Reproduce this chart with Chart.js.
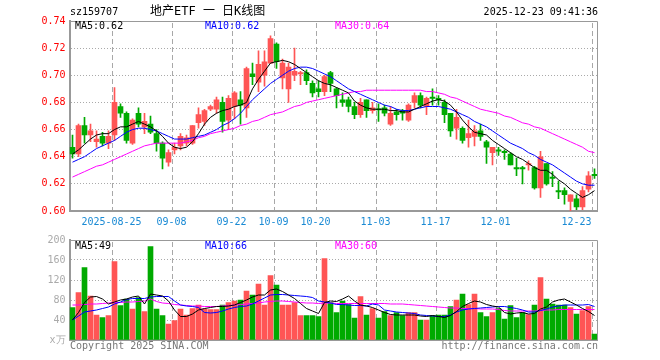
<!DOCTYPE html>
<html>
<head>
<meta charset="utf-8">
<script src="https://cdn.jsdelivr.net/npm/chart.js@4.4.1/dist/chart.umd.min.js"></script>
<style>
  html, body { margin: 0; padding: 0; background: #fff; }
  #wrap { position: relative; width: 660px; height: 360px; overflow: hidden; font-family: "DejaVu Sans Mono", monospace; font-size: 10px; }
  canvas { position: absolute; left: 0; }
  .t { position: absolute; white-space: pre; line-height: 12px; }
</style>
</head>
<body>
<div id="wrap">
  <canvas id="k" width="660" height="230" style="top:0"></canvas>
  <canvas id="v" width="660" height="125" style="top:230px"></canvas>
  <div class="t" style="left:70px;top:6px">sz159707</div>
  <div class="t" style="left:150px;top:4px;font-size:12px;line-height:15px;font-family:'DejaVu Sans Mono','Noto Sans CJK SC',monospace">地产ETF 一 日K线图</div>
  <div class="t" style="right:62px;top:6px">2025-12-23 09:41:36</div>
  <div class="t" style="left:75px;top:20px;color:#000">MA5:0.62</div>
  <div class="t" style="left:205px;top:20px;color:#00f">MA10:0.62</div>
  <div class="t" style="left:335px;top:20px;color:#f0f">MA30:0.64</div>
  <div class="t" style="left:75px;top:240px;color:#000">MA5:49</div>
  <div class="t" style="left:205px;top:240px;color:#00f">MA10:66</div>
  <div class="t" style="left:335px;top:240px;color:#f0f">MA30:60</div>
  <div class="t" style="left:70px;top:340px;color:#777">Copyright 2025 SINA.COM</div>
  <div class="t" style="right:62px;top:340px;color:#777">http://finance.sina.com.cn</div>
</div>
<script>
const dates = [
  "2025-08-14","2025-08-15","2025-08-18","2025-08-19","2025-08-20","2025-08-21","2025-08-22","2025-08-25","2025-08-26","2025-08-27",
  "2025-08-28","2025-08-29","2025-09-01","2025-09-02","2025-09-03","2025-09-04","2025-09-05","2025-09-08","2025-09-09","2025-09-10",
  "2025-09-11","2025-09-12","2025-09-15","2025-09-16","2025-09-17","2025-09-18","2025-09-19","2025-09-22","2025-09-23","2025-09-24",
  "2025-09-25","2025-09-26","2025-09-29","2025-09-30","2025-10-09","2025-10-10","2025-10-13","2025-10-14","2025-10-15","2025-10-16",
  "2025-10-17","2025-10-20","2025-10-21","2025-10-22","2025-10-23","2025-10-24","2025-10-27","2025-10-28","2025-10-29","2025-10-30",
  "2025-10-31","2025-11-03","2025-11-04","2025-11-05","2025-11-06","2025-11-07","2025-11-10","2025-11-11","2025-11-12","2025-11-13",
  "2025-11-14","2025-11-17","2025-11-18","2025-11-19","2025-11-20","2025-11-21","2025-11-24","2025-11-25","2025-11-26","2025-11-27",
  "2025-11-28","2025-12-01","2025-12-02","2025-12-03","2025-12-04","2025-12-05","2025-12-08","2025-12-09","2025-12-10","2025-12-11",
  "2025-12-12","2025-12-15","2025-12-16","2025-12-17","2025-12-18","2025-12-19","2025-12-22","2025-12-23"
];

const open = [
  0.647,0.642,0.663,0.656,0.651,0.655,0.650,0.656,0.677,0.672,
  0.650,0.672,0.662,0.664,0.657,0.650,0.636,0.645,0.648,0.650,
  0.650,0.665,0.666,0.675,0.675,0.680,0.667,0.677,0.682,0.676,
  0.701,0.695,0.700,0.709,0.723,0.698,0.690,0.700,0.701,0.702,
  0.694,0.690,0.688,0.702,0.690,0.682,0.682,0.677,0.671,0.682,
  0.674,0.675,0.676,0.664,0.673,0.674,0.667,0.680,0.685,0.677,
  0.684,0.683,0.680,0.672,0.661,0.661,0.654,0.655,0.659,0.651,
  0.643,0.645,0.644,0.642,0.632,0.632,0.634,0.632,0.617,0.635,
  0.625,0.615,0.615,0.607,0.609,0.603,0.616,0.627
];
const high = [
  0.656,0.664,0.669,0.664,0.659,0.658,0.659,0.691,0.679,0.673,
  0.668,0.676,0.672,0.670,0.660,0.651,0.645,0.650,0.657,0.656,
  0.663,0.676,0.675,0.678,0.684,0.684,0.685,0.688,0.688,0.706,
  0.709,0.718,0.718,0.729,0.724,0.712,0.709,0.720,0.703,0.704,
  0.696,0.696,0.700,0.703,0.691,0.687,0.684,0.680,0.683,0.682,
  0.680,0.679,0.678,0.677,0.675,0.675,0.679,0.687,0.687,0.684,
  0.690,0.685,0.682,0.672,0.675,0.662,0.667,0.663,0.664,0.652,
  0.647,0.647,0.645,0.643,0.639,0.633,0.637,0.633,0.644,0.635,
  0.629,0.622,0.617,0.612,0.612,0.618,0.629,0.631
];
const low = [
  0.639,0.640,0.650,0.651,0.647,0.648,0.646,0.652,0.669,0.650,
  0.649,0.662,0.657,0.657,0.644,0.631,0.633,0.642,0.645,0.648,
  0.649,0.661,0.663,0.674,0.672,0.658,0.660,0.668,0.664,0.669,
  0.693,0.688,0.692,0.709,0.705,0.690,0.680,0.696,0.693,0.693,
  0.684,0.684,0.685,0.688,0.676,0.677,0.673,0.668,0.669,0.669,
  0.672,0.666,0.670,0.663,0.667,0.667,0.666,0.676,0.676,0.671,
  0.678,0.678,0.665,0.655,0.653,0.650,0.647,0.648,0.652,0.635,
  0.634,0.641,0.638,0.634,0.626,0.620,0.630,0.616,0.610,0.619,
  0.618,0.609,0.605,0.600,0.601,0.601,0.614,0.624
];
const close = [
  0.642,0.663,0.656,0.659,0.653,0.650,0.655,0.680,0.672,0.652,
  0.667,0.664,0.666,0.658,0.650,0.639,0.643,0.647,0.655,0.654,
  0.663,0.671,0.674,0.677,0.682,0.666,0.683,0.687,0.678,0.705,
  0.699,0.708,0.710,0.727,0.710,0.709,0.706,0.703,0.702,0.696,
  0.687,0.688,0.699,0.694,0.685,0.680,0.677,0.671,0.680,0.674,
  0.676,0.6745,0.672,0.672,0.671,0.672,0.678,0.685,0.678,0.683,
  0.683,0.682,0.671,0.659,0.669,0.652,0.657,0.659,0.655,0.647,
  0.647,0.644,0.643,0.634,0.631,0.631,0.635,0.617,0.640,0.620,
  0.624,0.614,0.612,0.612,0.603,0.615,0.626,0.626
];
const ma5 = [
  0.642,0.645,0.649,0.653,0.656,0.657,0.657,0.660,0.662,0.662,
  0.664,0.666,0.664,0.662,0.659,0.655,0.650,0.647,0.646,0.647,
  0.651,0.657,0.664,0.669,0.672,0.674,0.675,0.677,0.678,0.680,
  0.690,0.697,0.703,0.709,0.710,0.711,0.710,0.708,0.705,0.702,
  0.699,0.696,0.694,0.693,0.691,0.689,0.687,0.681,0.678,0.676,
  0.675,0.675,0.675,0.674,0.674,0.673,0.673,0.675,0.677,0.679,
  0.681,0.682,0.681,0.678,0.673,0.667,0.662,0.658,0.657,0.656,
  0.652,0.649,0.646,0.643,0.640,0.638,0.635,0.632,0.630,0.630,
  0.627,0.623,0.620,0.616,0.613,0.610,0.612,0.615
];
const ma10 = [
  0.636,0.638,0.640,0.643,0.646,0.648,0.650,0.652,0.655,0.658,
  0.660,0.661,0.661,0.660,0.659,0.657,0.655,0.653,0.653,0.653,
  0.654,0.655,0.656,0.658,0.660,0.663,0.665,0.668,0.672,0.677,
  0.682,0.686,0.690,0.694,0.697,0.700,0.703,0.705,0.706,0.706,
  0.705,0.703,0.701,0.699,0.696,0.693,0.690,0.688,0.686,0.684,
  0.682,0.680,0.678,0.677,0.675,0.674,0.674,0.675,0.676,0.677,
  0.677,0.677,0.676,0.675,0.673,0.671,0.669,0.666,0.664,0.662,
  0.659,0.656,0.653,0.650,0.648,0.646,0.643,0.641,0.638,0.636,
  0.634,0.631,0.628,0.625,0.622,0.620,0.619,0.619
];
const ma30 = [
  0.625,0.627,0.629,0.631,0.633,0.634,0.636,0.638,0.640,0.642,
  0.644,0.646,0.648,0.649,0.650,0.650,0.650,0.650,0.650,0.651,
  0.652,0.654,0.655,0.657,0.658,0.659,0.660,0.661,0.663,0.664,
  0.666,0.667,0.669,0.671,0.672,0.673,0.675,0.677,0.678,0.680,
  0.681,0.682,0.683,0.684,0.685,0.686,0.687,0.688,0.688,0.689,
  0.689,0.689,0.689,0.689,0.689,0.689,0.689,0.689,0.689,0.688,
  0.688,0.687,0.686,0.684,0.683,0.681,0.679,0.677,0.675,0.674,
  0.673,0.672,0.670,0.669,0.667,0.665,0.664,0.662,0.661,0.659,
  0.657,0.655,0.653,0.651,0.649,0.647,0.644,0.643
];

// volume in 万
const volume = [
  65,95,145,88,50,45,49,157,69,82,
  62,85,57,187,62,49,32,39,62,50,
  63,70,62,61,61,70,75,78,80,98,
  90,112,70,129,110,70,70,75,49,49,
  49,47,163,75,55,78,71,44,87,50,
  63,44,57,49,55,49,55,55,40,40,
  49,50,50,67,80,92,71,92,55,47,
  55,63,42,69,45,55,51,70,125,82,
  72,70,70,65,52,59,67,12
];
const vma5 = [
  40,55,75,86,87,82,72,76,80,82,
  86,88,72,92,90,88,78,60,47,47,
  52,60,63,65,67,67,68,70,75,80,
  86,90,90,100,102,97,90,83,73,63,
  58,53,75,78,77,82,88,78,70,68,
  65,60,55,51,50,50,50,50,48,47,
  49,47,45,49,57,67,73,78,76,71,
  68,66,55,52,54,55,52,53,62,66,
  76,80,82,76,70,63,57,49
];
const vma10 = [
  40,48,56,58,60,63,66,72,76,81,
  83,83,83,86,87,87,87,78,70,68,
  67,65,55,54,55,58,62,65,67,68,
  72,78,84,90,91,91,90,89,88,87,
  85,78,76,74,71,71,70,69,69,68,
  72,70,60,58,56,55,54,53,50,49,
  48,47,47,50,56,60,62,63,64,65,
  66,67,67,65,63,60,56,56,59,62,
  66,68,70,70,70,70,71,67
];
const vma30 = [
  70,70,71,72,72,73,74,75,75,76,
  76,77,78,82,77,74,73,71,70,69,
  68,68,67,67,67,68,69,70,71,72,
  73,74,76,77,78,78,77,76,75,74,
  74,73,74,74,73,73,73,73,73,73,
  73,73,73,72,72,72,71,70,69,68,
  67,66,65,64,64,63,63,63,62,62,
  62,61,59,58,58,58,58,58,59,60,
  60,61,61,61,61,61,61,61
];

const tickDates = ["2025-08-25","2025-09-08","2025-09-22","2025-10-09","2025-10-20","2025-11-03","2025-11-17","2025-12-01","2025-12-23"];
const tickText  = ["2025-08-25","09-08","09-22","10-09","10-20","11-03","11-17","12-01","12-23     "];

const RED = "#ff5555", GREEN = "#00aa00";
const FONT = { family: "DejaVu Sans Mono", size: 10 };
const colors = open.map((o, i) => close[i] >= o ? RED : GREEN);
const tickIdx = tickDates.map(d => dates.indexOf(d));

// dashed date lines under the marks, top/right edge of the box over them
const frame = {
  id: "frame",
  beforeDatasetsDraw(chart) {
    const { ctx, chartArea: a } = chart;
    const xs = chart.scales.x;
    const half = (a.right - a.left) / dates.length / 2;
    ctx.save();
    ctx.fillStyle = "#a8a8a8";
    for (const i of tickIdx) {
      const px = Math.floor(xs.getPixelForValue(i) - half) + 1;
      for (let y = Math.ceil(a.top) + 2; y < a.bottom - 1; y += 8) {
        ctx.fillRect(px, y, 1, Math.min(5, a.bottom - 1 - y));
      }
    }
    ctx.restore();
  },
  afterDatasetsDraw(chart) {
    const { ctx, chartArea: a } = chart;
    ctx.save();
    ctx.strokeStyle = "#999";
    ctx.lineWidth = 1;
    ctx.beginPath();
    ctx.moveTo(a.left, Math.round(a.top) + 0.5);
    ctx.lineTo(Math.round(a.right) - 0.5, Math.round(a.top) + 0.5);
    ctx.lineTo(Math.round(a.right) - 0.5, a.bottom);
    ctx.stroke();
    ctx.restore();
  }
};

const line = (data, color) => ({
  type: "line", data, borderColor: color, borderWidth: 1,
  pointRadius: 0, tension: 0, order: 0
});

const common = {
  responsive: false,
  animation: false,
  events: [],
  plugins: { legend: { display: false }, tooltip: { enabled: false } },
};

new Chart(document.getElementById("k"), {
  type: "bar",
  data: {
    labels: dates,
    datasets: [
      line(ma5, "#000"),
      line(ma10, "#00f"),
      line(ma30, "#f0f"),
      { data: open.map((o, i) => [o, close[i]]), backgroundColor: colors, barThickness: 5,
        minBarLength: 1, grouped: false, order: 1 },
      { data: low.map((l, i) => [l, high[i]]), backgroundColor: colors, barThickness: 1,
        grouped: false, order: 2 },
    ],
  },
  options: {
    ...common,
    layout: { padding: { top: 21, right: 62.5, left: 0, bottom: 0 } },
    scales: {
      x: {
        afterFit: s => { s.height = 19; },
        grid: { display: false, drawTicks: false },
        border: { color: "#999", width: 2 },
        ticks: {
          autoSkip: false, maxRotation: 0, padding: 5, labelOffset: -3,
          color: "#1a8ad4", font: FONT,
          callback: (v, i) => { const k = tickIdx.indexOf(i); return k >= 0 ? tickText[k] : ""; },
        },
      },
      y: {
        min: 0.60, max: 0.74,
        afterFit: s => { s.width = 69.5; },
        grid: {
          drawTicks: false,
          color: ctx => ctx.tick && ctx.tick.value > 0.605 && ctx.tick.value < 0.735 ? "#aaa" : "rgba(0,0,0,0)",
        },
        border: { color: "#999", width: 2, dash: [1, 2] },
        ticks: { stepSize: 0.02, padding: 4, color: "#f00", font: FONT, callback: v => v.toFixed(2) },
      },
    },
  },
  plugins: [frame],
});

new Chart(document.getElementById("v"), {
  type: "bar",
  data: {
    labels: dates,
    datasets: [
      line(vma5, "#000"),
      line(vma10, "#00f"),
      line(vma30, "#f0f"),
      { data: volume, backgroundColor: colors, barThickness: 5, order: 1 },
    ],
  },
  options: {
    ...common,
    layout: { padding: { top: 10, right: 62.5, left: 0, bottom: 15 } },
    scales: {
      x: {
        afterFit: s => { s.height = 0; },
        grid: { display: false, drawTicks: false },
        border: { color: "#999", width: 2 },
        ticks: { display: false },
      },
      y: {
        min: 0, max: 200,
        afterFit: s => { s.width = 69.5; },
        grid: {
          drawTicks: false,
          color: ctx => ctx.tick && ctx.tick.value > 0 && ctx.tick.value < 200 ? "#aaa" : "rgba(0,0,0,0)",
        },
        border: { color: "#999", width: 2, dash: [1, 2] },
        ticks: { stepSize: 40, padding: 4, color: "#aaa", font: FONT, callback: v => v === 0 ? "x万" : String(v) },
      },
    },
  },
  plugins: [frame],
});
</script>
</body>
</html>
